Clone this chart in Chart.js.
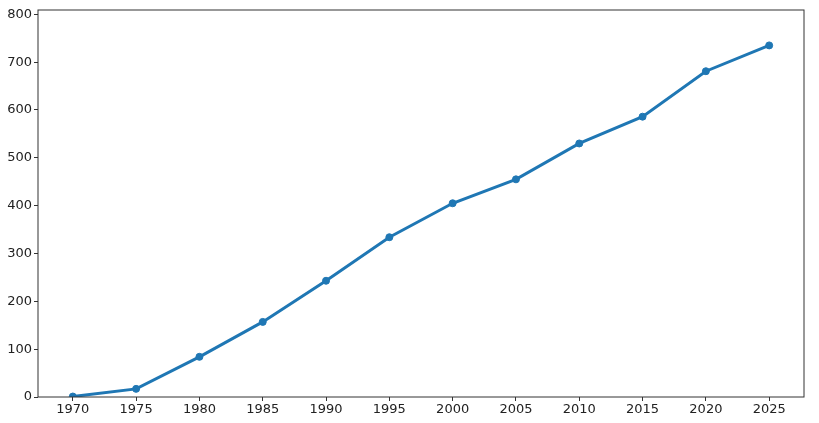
<!DOCTYPE html>
<html lang="en">
<head>
    <meta charset="UTF-8">
    <title>Line chart</title>
    <script src="https://cdn.jsdelivr.net/npm/chart.js"></script>
    <style>
body {
    margin: 0;
    padding: 0;
    background: #fff;
}
.wrap {
    width: 819px;
    height: 423px;
}
    </style>
</head>
<body>
    <div class="wrap"><canvas id="lineChart" width="819" height="423"></canvas></div>
    <script>
        const years = [1970, 1975, 1980, 1985, 1990, 1995, 2000, 2005, 2010, 2015, 2020, 2025];
        const values = [1, 17, 84, 157, 243, 334, 405, 455, 530, 586, 681, 735];
        const xTicks = [1970, 1975, 1980, 1985, 1990, 1995, 2000, 2005, 2010, 2015, 2020, 2025];
        const yTicks = [0, 100, 200, 300, 400, 500, 600, 700, 800];

        const tickFont = { family: 'DejaVu Sans', size: 13 };

        // draw the full box around the plot, like matplotlib spines
        const frame = {
            id: 'frame',
            afterDraw(chart) {
                const a = chart.chartArea;
                const c = chart.ctx;
                c.save();
                c.strokeStyle = '#333';
                c.lineWidth = 1;
                c.strokeRect(a.left, a.top, a.right - a.left, a.bottom - a.top);
                c.restore();
            }
        };

        const ctx = document.getElementById('lineChart').getContext('2d');
        new Chart(ctx, {
            type: 'line',
            data: {
                datasets: [{
                    data: years.map((y, i) => ({ x: y, y: values[i] })),
                    borderColor: '#1f77b4',
                    backgroundColor: '#1f77b4',
                    borderWidth: 3,
                    pointRadius: 3.5,
                    pointBorderWidth: 1,
                    pointHoverRadius: 3.5,
                    tension: 0
                }]
            },
            options: {
                responsive: false,
                animation: false,
                layout: {
                    padding: { left: 0, top: 10, right: 15, bottom: 0 }
                },
                plugins: {
                    legend: { display: false },
                    tooltip: { enabled: false }
                },
                scales: {
                    x: {
                        type: 'linear',
                        min: 1967.25,
                        max: 2027.75,
                        afterBuildTicks: (scale) => {
                            scale.ticks = xTicks.map(v => ({ value: v }));
                        },
                        afterFit: (scale) => { scale.height = 26; },
                        ticks: {
                            font: tickFont,
                            color: '#222',
                            padding: 1,
                            maxRotation: 0,
                            autoSkip: false,
                            callback: (v) => String(v)
                        },
                        grid: {
                            drawOnChartArea: false,
                            drawTicks: true,
                            tickLength: 4,
                            color: '#333'
                        },
                        border: { display: false }
                    },
                    y: {
                        min: 0,
                        max: 809,
                        afterBuildTicks: (scale) => {
                            scale.ticks = yTicks.map(v => ({ value: v }));
                        },
                        afterFit: (scale) => { scale.width = 38; },
                        ticks: {
                            font: tickFont,
                            color: '#222',
                            padding: 2,
                            autoSkip: false
                        },
                        grid: {
                            drawOnChartArea: false,
                            drawTicks: true,
                            tickLength: 4,
                            color: '#333'
                        },
                        border: { display: false }
                    }
                }
            },
            plugins: [frame]
        });
    </script>
</body>
</html>
